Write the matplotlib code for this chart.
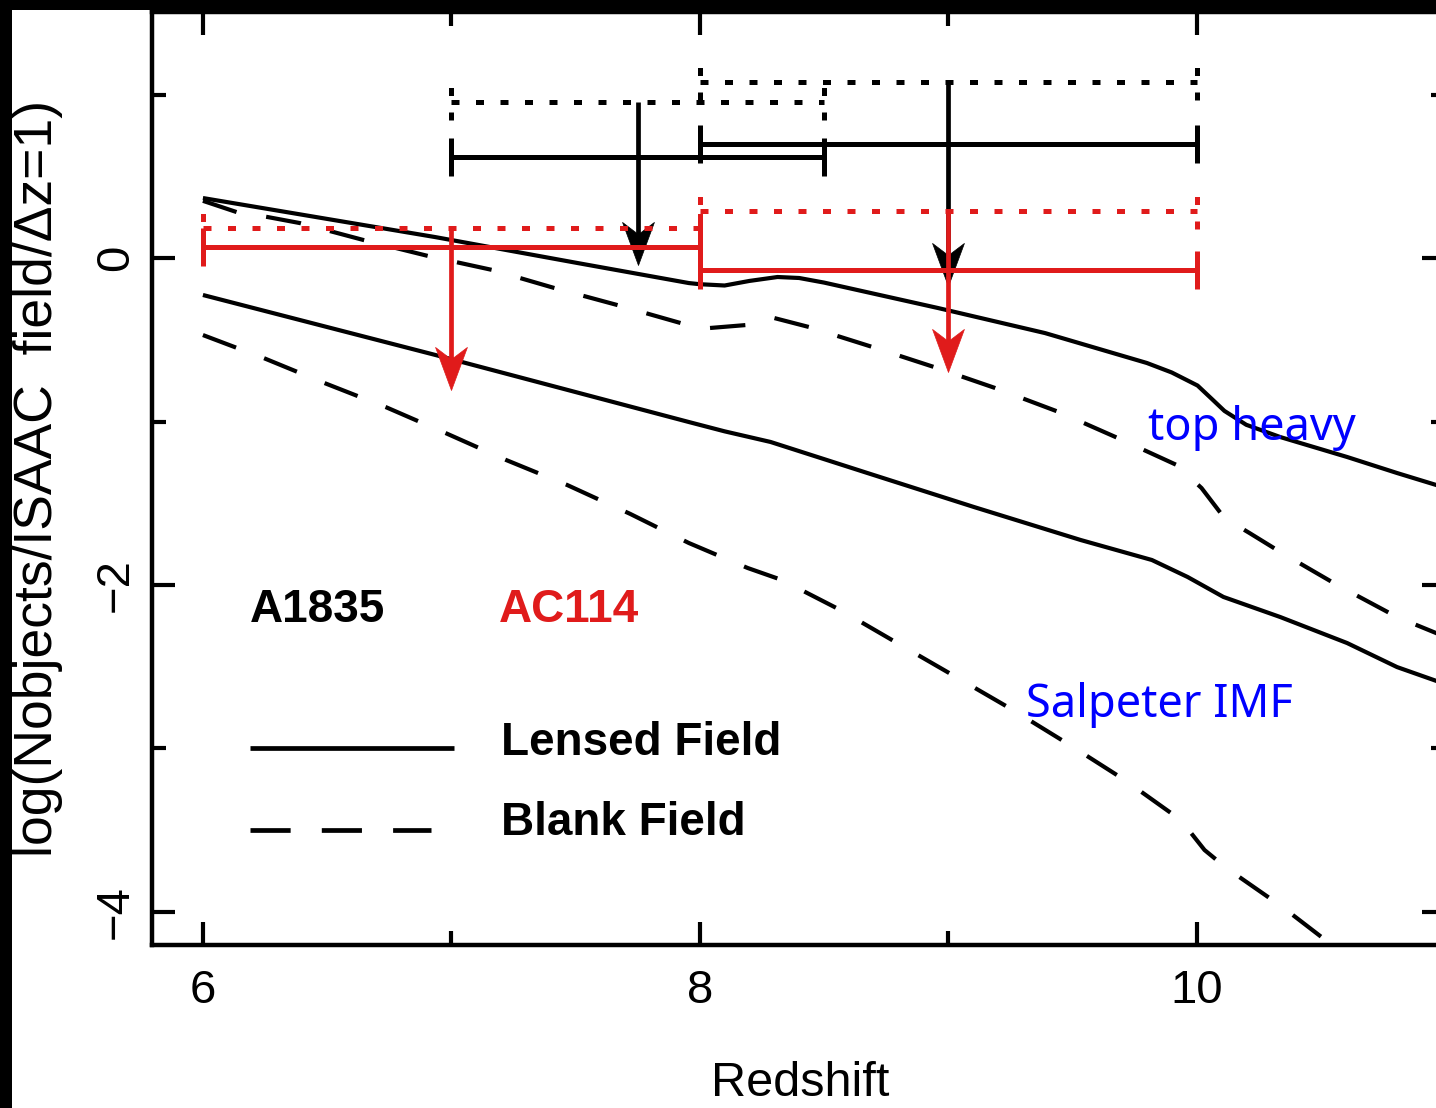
import numpy as np
import matplotlib
matplotlib.use("Agg")
import matplotlib.pyplot as plt
from matplotlib.path import Path
from matplotlib.markers import MarkerStyle
from matplotlib.patches import Rectangle

# ---- model number counts: log(N per ISAAC field per unit redshift) ----
z_th_lensed = [6.0, 6.936, 7.51, 7.956, 8.0, 8.1, 8.2, 8.313, 8.4, 8.5, 8.96, 9.39,
               9.80, 9.90, 10.004, 10.06, 10.112, 10.2, 10.337, 10.606, 10.807, 10.99]
y_th_lensed = [0.367, 0.128, -0.031, -0.153, -0.160, -0.168, -0.140, -0.116, -0.122, -0.150,
               -0.306, -0.459, -0.642, -0.700, -0.780, -0.860, -0.935, -1.02, -1.095, -1.217,
               -1.315, -1.40]

z_th_blank = [6.0, 6.136, 6.26, 6.39, 6.647, 6.908, 7.165, 7.414, 7.667, 7.924, 8.04, 8.185,
              8.30, 8.44, 8.695, 8.944, 9.189, 9.446, 9.683, 9.92, 10.02, 10.112, 10.213,
              10.337, 10.566, 10.807, 10.99]
y_th_blank = [0.350, 0.281, 0.251, 0.214, 0.110, 0.012, -0.073, -0.183, -0.287, -0.398, -0.428,
              -0.410, -0.367, -0.422, -0.544, -0.667, -0.795, -0.942, -1.101, -1.266, -1.407,
              -1.590, -1.682, -1.798, -2.000, -2.196, -2.31]

z_salp_lensed = [6.0, 6.936, 7.956, 8.1, 8.285, 8.675, 9.104, 9.534, 9.82, 9.964, 10.108,
                 10.337, 10.606, 10.807, 10.99]
y_salp_lensed = [-0.226, -0.593, -1.003, -1.06, -1.125, -1.315, -1.523, -1.725, -1.847, -1.951,
                 -2.073, -2.196, -2.355, -2.502, -2.60]

z_salp_blank = [6.0, 6.245, 6.49, 6.735, 6.976, 7.22, 7.466, 7.72, 7.956, 8.193, 8.33, 8.566,
                8.795, 9.032, 9.261, 9.49, 9.711, 9.936, 10.032, 10.12, 10.345, 10.56]
y_salp_blank = [-0.471, -0.612, -0.765, -0.911, -1.070, -1.235, -1.388, -1.565, -1.743, -1.896,
                -1.969, -2.153, -2.355, -2.563, -2.765, -2.979, -3.193, -3.437, -3.621, -3.731,
                -3.969, -4.22]

# ---- observed limits in redshift bins ----
a1835_zlo = [7.0, 8.0]
a1835_zhi = [8.5, 10.0]
a1835_val = [0.618, 0.700]
a1835_dot = [0.954, 1.076]
a1835_lim = [-0.043, -0.17]

ac114_zlo = [6.0, 8.0]
ac114_zhi = [8.0, 10.0]
ac114_val = [0.067, -0.073]
ac114_dot = [0.183, 0.287]
ac114_lim = [-0.807, -0.697]

RED = "#e01b1b"
BLUE = "#0000ff"
DASH = (0, (8.5, 7.2))
DOT = (0, (1.6, 3.3))
FONT = ["Liberation Sans", "DejaVu Sans"]

plt.rcParams["font.family"] = FONT

W, H = 1436, 1108
fig = plt.figure(figsize=(W / 100, H / 100), dpi=100)
fig.patch.set_facecolor("white")

# axes frame extends slightly past the right edge of the canvas
ax = fig.add_axes([152 / W, 1 - 945 / H, 1293 / W, 933 / H])
ax.set_xlim(5.795, 10.99)
ax.set_ylim(-4.202, 1.505)

lw_curve = 3.0
ax.plot(z_th_lensed, y_th_lensed, color="black", lw=lw_curve, solid_capstyle="butt",
        solid_joinstyle="round")
ax.plot(z_th_blank, y_th_blank, color="black", lw=lw_curve, ls=DASH, dash_capstyle="butt")
ax.plot(z_salp_lensed, y_salp_lensed, color="black", lw=lw_curve, solid_capstyle="butt",
        solid_joinstyle="round")
ax.plot(z_salp_blank, y_salp_blank, color="black", lw=lw_curve, ls=DASH, dash_capstyle="butt")

# swept-back arrowhead with its tip at the marker origin
head_path = Path([(0, 0), (-0.37, 1.0), (0, 0.72), (0.37, 1.0), (0, 0)],
                 [Path.MOVETO, Path.LINETO, Path.LINETO, Path.LINETO, Path.CLOSEPOLY])
head_marker = MarkerStyle(head_path)
head_len = 0.263  # arrowhead length in data units


def draw_set(zlo, zhi, val, dot, lim, color):
    zlo = np.asarray(zlo)
    zhi = np.asarray(zhi)
    zc = 0.5 * (zlo + zhi)
    # dotted bars with dotted end caps
    ax.hlines(dot, zlo, zhi, colors=color, lw=3.6, linestyles=DOT, capstyle="butt")
    for lo, hi, d in zip(zlo, zhi, dot):
        ax.vlines([lo, hi], d - 0.11, d + 0.11, colors=color, lw=3.6, linestyles=DOT)
    # solid bars with caps
    ax.errorbar(zc, val, xerr=[zc - zlo, zhi - zc], fmt="none", ecolor=color,
                elinewidth=3.6, capsize=13.7, capthick=3.6)
    # upper-limit arrows
    for x, d, t in zip(zc, dot, lim):
        ax.plot([x, x], [d, t + 0.7 * head_len], color=color, lw=3.4, solid_capstyle="butt")
        ax.plot([x], [t], marker=head_marker, ms=62, color=color, mec=color, mew=0.5, ls="none")


draw_set(a1835_zlo, a1835_zhi, a1835_val, a1835_dot, a1835_lim, "black")
draw_set(ac114_zlo, ac114_zhi, ac114_val, ac114_dot, ac114_lim, RED)

# key
key_font = dict(fontsize=33, fontweight="bold", family=FONT)
ax.text(6.189, -2.226, "A1835", color="black", va="baseline", ha="left", **key_font)
ax.text(7.193, -2.226, "AC114", color=RED, va="baseline", ha="left", **key_font)
ax.plot([6.189, 7.012], [-2.997, -2.997], color="black", lw=3.4, solid_capstyle="butt")
ax.plot([6.189, 6.92], [-3.498, -3.498], color="black", lw=3.4, ls=(0, (8.5, 6.6)),
        dash_capstyle="butt")
ax.text(7.2, -3.04, "Lensed Field", color="black", va="baseline", ha="left", **key_font)
ax.text(7.2, -3.529, "Blank Field", color="black", va="baseline", ha="left", **key_font)

# curve annotations
note_font = dict(fontsize=32.5, family=["Noto Sans", "DejaVu Sans"], color=BLUE)
ax.text(9.803, -1.113, "top heavy", va="baseline", ha="left", **note_font)
ax.text(9.313, -2.807, "Salpeter IMF", va="baseline", ha="left", **note_font)

# axes styling
for s in ax.spines.values():
    s.set_linewidth(3.2)
ax.set_xticks([6, 8, 10])
ax.set_xticks([7, 9, 11], minor=True)
ax.set_yticks([-4, -2, 0])
ax.set_yticks([-3, -1, 1], minor=True)
ax.set_yticklabels(["\u22124", "\u22122", "0"])
ax.tick_params(which="both", direction="in", top=True, right=True, width=3.0,
               labelsize=34)
ax.tick_params(which="major", length=16.5)
ax.tick_params(which="minor", length=10)
ax.tick_params(axis="x", which="major", pad=17)
ax.tick_params(axis="y", which="major", pad=10, labelrotation=90)
for lbl in ax.get_yticklabels():
    lbl.set_va("center")

ax.set_xlabel("Redshift", fontsize=35)
ax.xaxis.set_label_coords((800 - 152) / 1293, -0.124)
ax.set_ylabel("log(Nobjects/ISAAC  field/\u0394z=1)", fontsize=38.5, va="center")
ax.yaxis.set_label_coords(-0.088, 0.5)

# dark strips along the top and left edges of the canvas
fig.patches.append(Rectangle((0, 1 - 10 / H), 1, 10 / H, transform=fig.transFigure,
                             facecolor="black", edgecolor="none", zorder=10))
fig.patches.append(Rectangle((0, 0), 12 / W, 1, transform=fig.transFigure,
                             facecolor="black", edgecolor="none", zorder=10))

fig.savefig("out.png", dpi=100, facecolor="white")
